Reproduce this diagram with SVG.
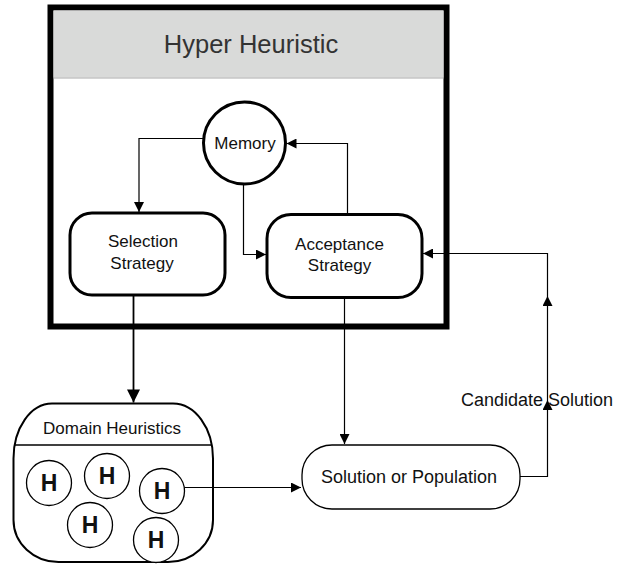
<svg xmlns="http://www.w3.org/2000/svg" width="618" height="564" viewBox="0 0 618 564">
  <style>
    text { font-family: "Liberation Sans", Arial, sans-serif; fill: #111; text-anchor: middle; }
    .lbl { font-size: 17px; }
    .thin { fill: none; stroke: #000; stroke-width: 1.2; }
    .node { fill: #fff; stroke: #000; stroke-width: 3; }
    .h { fill: #fff; stroke: #000; stroke-width: 1.3; }
    .hl { font-size: 23px; font-weight: bold; }
  </style>
  <defs>
    <marker id="arr" viewBox="0 0 10 10" refX="10" refY="5" markerWidth="10" markerHeight="10" markerUnits="userSpaceOnUse" orient="auto">
      <path d="M0,0 L10,5 L0,10 z" fill="#000"/>
    </marker>
    <marker id="arrBig" viewBox="0 0 10 10" refX="10" refY="5" markerWidth="14" markerHeight="13" markerUnits="userSpaceOnUse" orient="auto">
      <path d="M0,0 L10,5 L0,10 z" fill="#000"/>
    </marker>
  </defs>

  <!-- Hyper heuristic container -->
  <g id="hyper-heuristic">
    <rect x="50.5" y="7.5" width="396" height="319" fill="#fff" stroke="#000" stroke-width="6"/>
    <rect x="53.5" y="10.5" width="390" height="67" fill="#d9dad9"/>
    <line x1="53.5" y1="78" x2="443.5" y2="78" stroke="#aaa" stroke-width="1.2"/>
    <text x="251" y="53" style="font-size:25.5px; fill:#333;">Hyper Heuristic</text>
  </g>

  <g id="memory">
    <circle cx="244.5" cy="143" r="41" class="node" stroke-width="2"/>
    <text x="245" y="148.5" class="lbl">Memory</text>
  </g>

  <g id="selection-strategy">
    <rect x="70" y="213" width="155" height="82" rx="22" class="node"/>
    <text x="143" y="247" class="lbl">Selection</text>
    <text x="142" y="268.5" class="lbl">Strategy</text>
  </g>

  <g id="acceptance-strategy">
    <rect x="267" y="214.5" width="155" height="83" rx="24" class="node"/>
    <text x="339.5" y="249.5" class="lbl">Acceptance</text>
    <text x="339.5" y="271" class="lbl">Strategy</text>
  </g>

  <g id="domain-heuristics">
    <path d="M52,403.5 L173,403.5 A40,55 0 0 1 213,458.5 L213,520 A45,42 0 0 1 168,562 L58.5,562 A45,42 0 0 1 13.5,520 L13.5,458.5 A38.5,55 0 0 1 52,403.5 Z" fill="#fff" stroke="#000" stroke-width="2"/>
    <line x1="14.5" y1="445" x2="212" y2="445" stroke="#000" stroke-width="1.3"/>
    <text x="112" y="434" class="lbl">Domain Heuristics</text>
    <g id="h1"><circle cx="49" cy="483" r="22.5" class="h"/><text x="49" y="491" class="hl">H</text></g>
    <g id="h2"><circle cx="107" cy="476" r="22.5" class="h"/><text x="107" y="484" class="hl">H</text></g>
    <g id="h3"><circle cx="162" cy="491" r="22.5" class="h"/><text x="162" y="499" class="hl">H</text></g>
    <g id="h4"><circle cx="90" cy="525" r="22.5" class="h"/><text x="90" y="533" class="hl">H</text></g>
    <g id="h5"><circle cx="156" cy="540" r="22.5" class="h"/><text x="156" y="548" class="hl">H</text></g>
  </g>

  <g id="solution">
    <rect x="302" y="445" width="218" height="64" rx="30" fill="#fff" stroke="#000" stroke-width="1.3"/>
    <text x="409" y="483" style="font-size:18px;">Solution or Population</text>
  </g>

  <!-- connectors -->
  <g id="connectors">
    <path d="M203.5,138.5 L139,138.5 L139,212" class="thin" marker-end="url(#arr)"/>
    <path d="M243.5,184 L243.5,254.5 L266,254.5" class="thin" marker-end="url(#arr)"/>
    <path d="M347.5,213 L347.5,143.5 L286.5,143.5" class="thin" marker-end="url(#arr)"/>
    <path d="M133.5,295 L133.5,402.5" fill="none" stroke="#000" stroke-width="1.8" marker-end="url(#arrBig)"/>
    <path d="M344.5,298 L344.5,444" class="thin" marker-end="url(#arr)"/>
    <path d="M184.5,487.5 L301,487.5" class="thin" marker-end="url(#arr)"/>
    <path d="M520,476.5 L547.5,476.5 L547.5,400" class="thin" marker-end="url(#arr)"/>
    <path d="M547.5,400 L547.5,296" class="thin" marker-end="url(#arr)"/>
    <path d="M547.5,296 L547.5,253.5 L423,253.5" class="thin" marker-end="url(#arr)"/>
    <text x="537" y="406" style="font-size:18px;">Candidate Solution</text>
  </g>
</svg>
